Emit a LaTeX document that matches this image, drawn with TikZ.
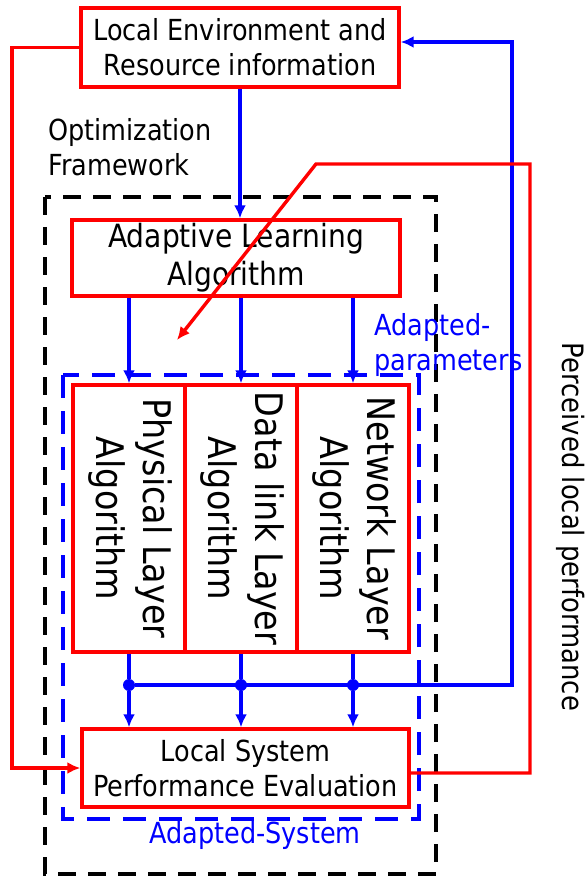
\documentclass[tikz,border=0pt]{standalone}
\usepackage{fontspec}
\setmainfont{DejaVu Sans}[FakeStretch=0.88]
\usetikzlibrary{arrows.meta,positioning}

\begin{document}
\begin{tikzpicture}[x=0.5pt,y=-0.5pt,
        box/.style={draw=red,line width=1.7pt,inner sep=0pt,align=center,font=\fontsize{14.5}{17.5}\selectfont},
        layerbox/.style={box,minimum width=56pt,minimum height=133.5pt,font=\fontsize{19}{23.5}\selectfont},
        bline/.style={draw=blue,line width=1.8pt},
        rline/.style={draw=red,line width=1.7pt},
        tip/.style={-{Latex[length=6.5pt,width=6pt]}},
        label/.style={inner sep=0pt,align=left,font=\fontsize{14.5}{17.5}\selectfont},
        dot/.style={circle,fill=blue,inner sep=0pt,minimum size=6pt}]
    \useasboundingbox (0,0) rectangle (587,877);
    \draw[black,line width=1.6pt,dash pattern=on 9pt off 6pt] (45,197) rectangle (436,874);
    \draw[blue,line width=1.6pt,dash pattern=on 11.5pt off 6.5pt] (63,375) rectangle (419,819);
    \node[box,minimum width=159pt,minimum height=39.5pt] (env) at (240,47.5) {Local Environment and\\Resource information};
    \node[box,minimum width=164pt,minimum height=38pt,font=\fontsize{16}{19}\selectfont] (alg) at (236,258) {Adaptive Learning\\Algorithm};
    \node[layerbox] (phy) at (129,518.5) {\rotatebox{-90}{\begin{tabular}{@{}c@{}}Physical Layer\\Algorithm\end{tabular}}};
    \node[layerbox] (dll) at (241,518.5) {\rotatebox{-90}{\begin{tabular}{@{}c@{}}Data link Layer\\Algorithm\end{tabular}}};
    \node[layerbox] (net) at (353,518.5) {\rotatebox{-90}{\begin{tabular}{@{}c@{}}Network Layer\\Algorithm\end{tabular}}};
    \node[box,minimum width=163.5pt,minimum height=39pt] (eval) at (245.5,768) {Local System\\Performance Evaluation};
    \node[label,anchor=north west] (opt) at (48,118) {Optimization\\Framework};
    \node[label,anchor=north west,text=blue] (apar) at (374,313) {Adapted-\\parameters};
    \node[label,anchor=base,text=blue] (asys) at (255,843) {Adapted-System};
    \node[inner sep=0pt,rotate=-90,font=\fontsize{14.7}{17.5}\selectfont] (perc) at (571,527) {Perceived local performance};
    \node[dot] (bp) at (129,685) {};
    \node[dot] (bd) at (241,685) {};
    \node[dot] (bn) at (353,685) {};
    \coordinate (fb) at (512,685);
    \coordinate (lft) at (12,47.5);
    \coordinate (rgt) at (530,773);
    \coordinate (bend) at (316,164);
    \coordinate (aim) at (177,340);
    \draw[bline,tip] (env.south) -- (env.south |- alg.north);
    \foreach \n in {phy,dll,net}
        \draw[bline,tip] (\n.north |- alg.south) -- (\n.north);
    \foreach \n/\b in {phy/bp,dll/bd,net/bn}
        \draw[bline,tip] (\n.south) -- (\b) -- (\b |- eval.north);
    \draw[bline,tip] (bp) -- (fb) |- ([yshift=2.75pt]env.east);
    \draw[rline,tip] (env.west) -- (lft) |- (eval.west);
    \draw[rline,tip] ([yshift=-2.5pt]eval.east) -- (rgt) |- (bend) -- (aim);
\end{tikzpicture}
\end{document}
